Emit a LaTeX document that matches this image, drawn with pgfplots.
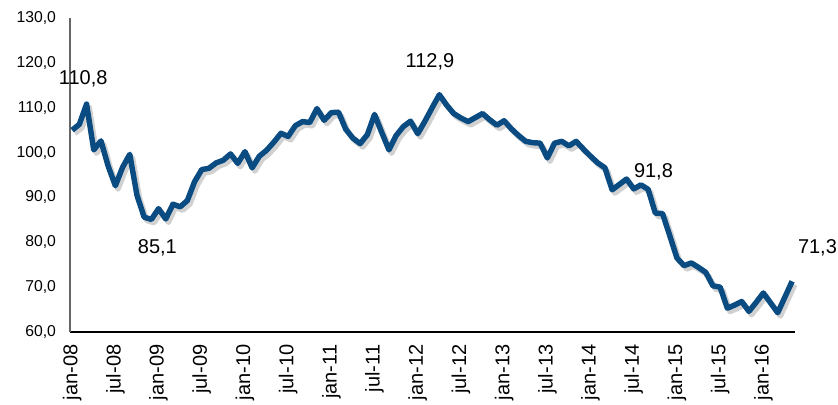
\documentclass[border=0pt]{standalone}
\usepackage{pgfplots}
\usepackage{pgfplotstable}
\usepackage{fontspec}
\setmainfont{Liberation Sans}
\pgfplotsset{compat=1.18}
\definecolor{lineblue}{RGB}{10,75,130}
\pgfplotstableread{
m v
0 105.0
1 106.3
2 110.8
3 100.6
4 102.6
5 97.0
6 92.6
7 96.7
8 99.6
9 90.5
10 85.6
11 85.1
12 87.5
13 85.2
14 88.5
15 87.9
16 89.3
17 93.5
18 96.2
19 96.5
20 97.7
21 98.3
22 99.7
23 97.6
24 100.2
25 96.6
26 99.2
27 100.5
28 102.3
29 104.3
30 103.6
31 106.0
32 106.9
33 106.7
34 109.8
35 107.2
36 108.9
37 109.0
38 105.2
39 103.2
40 102.0
41 104.0
42 108.5
43 104.5
44 100.6
45 103.8
46 105.8
47 107.0
48 104.2
49 107.0
50 110.0
51 112.9
52 110.6
53 108.7
54 107.7
55 106.9
56 107.8
57 108.7
58 107.3
59 106.1
60 107.1
61 105.3
62 103.8
63 102.5
64 102.2
65 102.1
66 98.8
67 102.1
68 102.5
69 101.5
70 102.5
71 100.8
72 99.2
73 97.7
74 96.6
75 91.7
76 92.9
77 94.1
78 91.9
79 92.8
80 91.8
81 86.5
82 86.4
83 81.5
84 76.5
85 74.8
86 75.4
87 74.4
88 73.3
89 70.3
90 70.0
91 65.3
92 66.0
93 66.8
94 64.6
95 66.6
96 68.7
97 66.5
98 64.3
99 67.8
100 71.3
}\datatable
\begin{document}
\begin{tikzpicture}
\begin{axis}[
  scale only axis,
  width=543.75pt, height=235.5pt,
  at={(0,0)}, anchor=south west,
  xmin=-0.3, xmax=100.4,
  ymin=60, ymax=130,
  ytick={60,70,...,130},
  xtick={0,6,...,96},
  xticklabels={jan-08,jul-08,jan-09,jul-09,jan-10,jul-10,jan-11,jul-11,jan-12,jul-12,jan-13,jul-13,jan-14,jul-14,jan-15,jul-15,jan-16},
  axis x line*=bottom, axis y line*=left,
  x axis line style={black, line width=1.2pt, -},
  y axis line style={black!60, line width=1pt, -},
  major tick length=0pt,
  /pgf/number format/.cd, fixed, fixed zerofill, precision=1, use comma, assume math mode=true,
  /pgfplots/.cd,
  yticklabel style={font=\fontsize{11.8pt}{13pt}\selectfont, xshift=-7pt},
  xticklabel style={font=\fontsize{15pt}{18pt}\selectfont, yshift=-6pt, rotate=90, anchor=east},
  clip=false,
]
\addplot[black!30, opacity=0.6, line width=4.1pt, line join=round, xshift=2pt, yshift=-2.5pt] table[x=m,y=v]{\datatable};
\addplot[lineblue, line width=4.1pt, line join=round] table[x=m,y=v]{\datatable};
\node[font=\fontsize{15pt}{18pt}\selectfont, xshift=-2.5pt, yshift=19pt] at (axis cs:2,110.8) {110,8};
\node[font=\fontsize{15pt}{18pt}\selectfont, xshift=4.5pt, yshift=-21pt] at (axis cs:11,85.1) {85,1};
\node[font=\fontsize{15pt}{18pt}\selectfont, xshift=-7pt, yshift=25pt] at (axis cs:51,112.9) {112,9};
\node[font=\fontsize{15pt}{18pt}\selectfont, xshift=4pt, yshift=13pt] at (axis cs:80,91.8) {91,8};
\node[font=\fontsize{15pt}{18pt}\selectfont, xshift=19pt, yshift=25pt] at (axis cs:100,71.3) {71,3};
\end{axis}
\pgfresetboundingbox
\useasboundingbox (-52.5pt,-54pt) rectangle (576pt,249pt);
\end{tikzpicture}
\end{document}
